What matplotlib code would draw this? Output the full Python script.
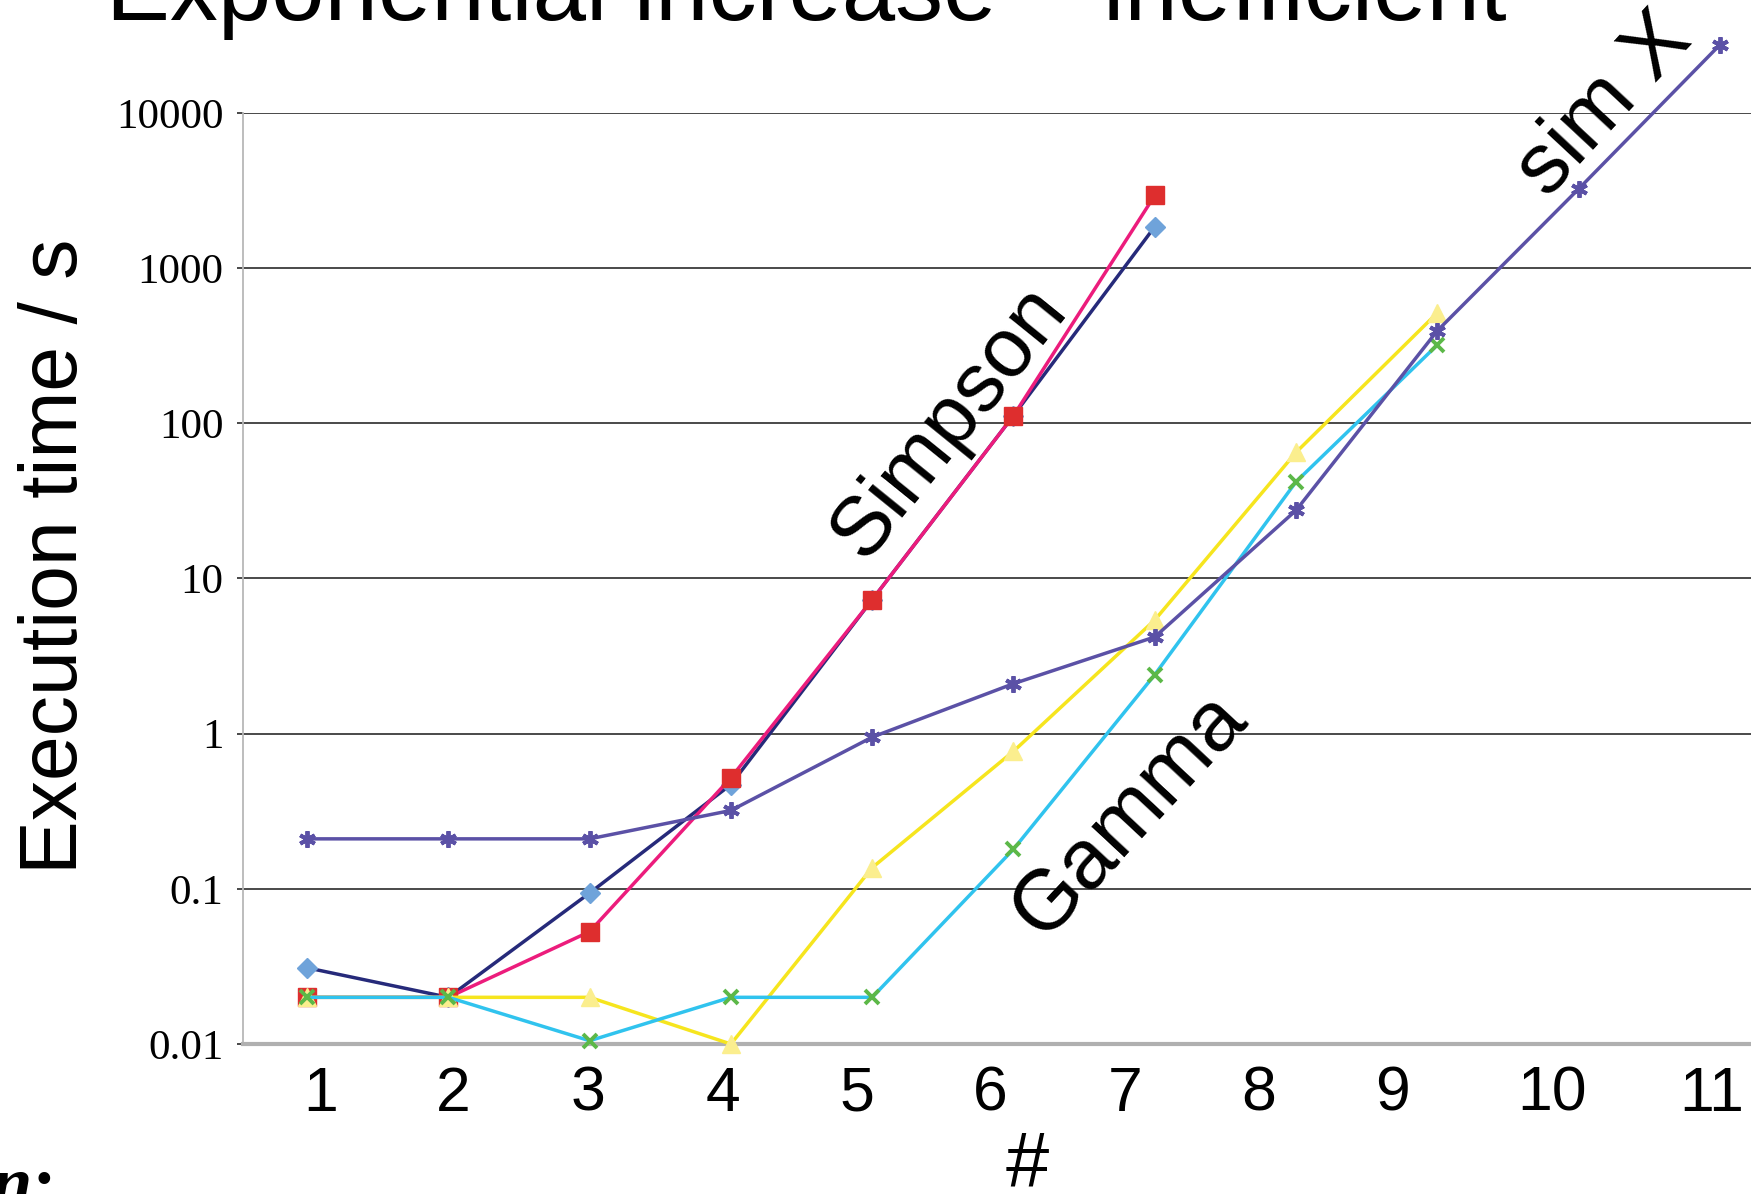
import numpy as np
import matplotlib
matplotlib.use("Agg")
import matplotlib.pyplot as plt
from matplotlib.ticker import FixedLocator, FixedFormatter, NullLocator

# data (execution time in seconds vs case #)
runs = [1, 2, 3, 4, 5, 6, 7, 8, 9, 10, 11]
t_navy = [0.031, 0.02, 0.094, 0.47, 7.3, 112, 1850]
t_pink = [0.02, 0.02, 0.053, 0.52, 7.3, 112, 2940]
t_yellow = [0.02, 0.02, 0.02, 0.01, 0.137, 0.77, 5.4, 65, 515]
t_cyan = [0.02, 0.02, 0.0105, 0.02, 0.02, 0.18, 2.4, 42, 320]
t_simx = [0.21, 0.21, 0.21, 0.32, 0.95, 2.1, 4.2, 27.5, 395, 3240, 27500]

x_labels = ["1", "2", "3", "4", "5", "6", "7", "8", "9", "10", "11"]
y_ticks = [0.01, 0.1, 1, 10, 100, 1000, 10000]
y_labels = ["0.01", "0.1", "1", "10", "100", "1000", "10000"]

# label positions on the slide do not sit exactly under the points
label_pos = [1.095, 2.036, 2.992, 3.941, 4.889, 5.838, 6.787, 7.735, 8.684, 9.814, 10.945]

sans = ["Liberation Sans", "DejaVu Sans"]
serif = ["Liberation Serif", "DejaVu Serif"]

fig = plt.figure(figsize=(17.51, 11.94), dpi=100)
ax = fig.add_axes([0.1388, 0.1256, 0.8612, 0.7798])

ax.set_yscale("log")
ax.set_ylim(0.01, 10000)
ax.set_xlim(0.547, 11.22)

lw = 2.5
ax.plot(runs[:7], t_navy, color="#262A7A", lw=lw, marker="D", ms=10,
        mfc="#6FA3DA", mec="#6FA3DA", clip_on=False, zorder=3)
ax.plot(runs[:7], t_pink, color="#EC1C7C", lw=lw, marker="s", ms=12.5,
        mfc="#DE2E2E", mec="#DE2E2E", clip_on=False, zorder=3)
ax.plot(runs[:9], t_yellow, color="#F6E51E", lw=lw, marker="^", ms=13,
        mfc="#FBEE8E", mec="#FBEE8E", clip_on=False, zorder=3)
ax.plot(runs[:9], t_cyan, color="#30C3EE", lw=lw, marker="x", ms=10, mew=2.8,
        mfc="#5CB848", mec="#5CB848", clip_on=False, zorder=3)
ax.plot(runs, t_simx, color="#5B51A6", lw=lw, marker=(6, 2, 0), ms=12, mew=2.8,
        mec="#5B51A6", clip_on=False, zorder=3)

# axes styling: Excel-like gridlines
ax.yaxis.set_major_locator(FixedLocator(y_ticks))
ax.yaxis.set_major_formatter(FixedFormatter(y_labels))
ax.yaxis.set_minor_locator(NullLocator())
ax.grid(axis="y", color="#2a2a2a", lw=1.2)
ax.set_axisbelow(True)
for s in ["top", "right"]:
    ax.spines[s].set_visible(False)
ax.spines["left"].set_color("#b8b8b8")
ax.spines["left"].set_linewidth(1.3)
ax.spines["bottom"].set_color("#b0b0b0")
ax.spines["bottom"].set_linewidth(3)

ax.tick_params(axis="y", length=4, width=1.2, color="#2a2a2a", pad=10)
for t in ax.get_yticklabels():
    t.set_family(serif)
    t.set_fontsize(31)

ax.set_xticks(label_pos)
ax.set_xticklabels(x_labels, family=sans, fontsize=45)
ax.tick_params(axis="x", length=0, pad=15)

fig.text(56 / 1751, 1 - 556 / 1194, "Execution time / s", family=sans,
         fontsize=58, rotation=90, ha="center", va="center")
fig.text(1027 / 1751, 1 - 1130 / 1194, "#", family=sans, fontsize=56,
         ha="center", va="top")

# slide title, cut off at the top
fig.text(106 / 1751, 1 - 20 / 1194, "Exponential increase \u2013 inefficient",
         family=sans, fontsize=69, ha="left", va="baseline")

# labels written along the curves
fig.text(949 / 1751, 1 - 422 / 1194, "Simpson", family=sans, fontsize=60,
         rotation=51, ha="center", va="center", rotation_mode="anchor")
fig.text(1130 / 1751, 1 - 815 / 1194, "Gamma", family=sans, fontsize=61,
         rotation=47, ha="center", va="center", rotation_mode="anchor")
fig.text(1605 / 1751, 1 - 106 / 1194, "sim X", family=sans, fontsize=62,
         rotation=47, ha="center", va="center", rotation_mode="anchor")

# fragment of the next slide text at the bottom left
fig.text(56 / 1751, 1 - 1205 / 1194, "n:", family=serif, fontsize=52,
         weight="bold", style="italic", ha="right", va="baseline")

fig.savefig("out.png", dpi=100)
